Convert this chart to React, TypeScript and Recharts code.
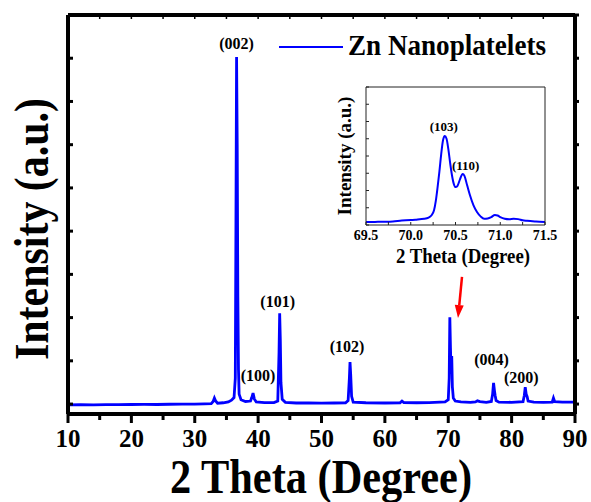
import React from "react";
import { LineChart, Line, XAxis, YAxis, ReferenceDot, ReferenceLine, Legend } from "recharts";

const FONT = "Liberation Serif, DejaVu Serif, serif";
const serif = { fontFamily: FONT, fontWeight: 700 } as const;

// main XRD pattern: 2 theta (degree) vs intensity (a.u.)
const mainAngles = [
  10, 12, 14, 16, 18, 20, 22, 24, 26, 28, 30, 31.5, 32.6, 32.9, 33.1, 33.3, 33.6, 34.5, 35.3, 35.8,
  36.2, 36.4, 36.5, 36.6, 36.7, 36.8, 36.9, 37.0, 37.3, 38, 38.8, 39.0, 39.2, 39.4, 39.7, 41, 42.5,
  43.1, 43.3, 43.4, 43.5, 43.6, 43.8, 44.3, 46, 48, 50, 52, 53.8, 54.2, 54.4, 54.5, 54.6, 54.75, 55.0,
  57, 60, 62.4, 62.7, 63.0, 65, 67, 69.5, 70.0, 70.15, 70.25, 70.35, 70.45, 70.55, 70.65, 70.8, 71.1,
  72, 73.5, 74.3, 74.6, 75.0, 76, 76.8, 77.0, 77.15, 77.3, 77.4, 77.55, 78, 80, 81.8, 82.0, 82.15,
  82.3, 82.45, 82.6, 83.5, 85, 86.4, 86.6, 86.8, 88, 90,
];
const mainIntensity = [
  -20, -15, -18, -12, -14, -10, -8, -10, -4, -2, 0, 5, 10, 60, 140, 70, 20, 30, 50, 90,
  150, 600, 4200, 8030, 6000, 2500, 800, 230, 100, 60, 70, 150, 255, 120, 50, 35, 35,
  70, 1200, 2100, 1500, 500, 110, 40, 25, 25, 20, 25, 30, 80, 600, 970, 700, 180, 45,
  30, 25, 30, 70, 35, 30, 35, 50, 100, 600, 2010, 1300, 700, 1110, 400, 140, 70,
  50, 40, 50, 75, 55, 40, 60, 230, 490, 300, 200, 80, 45, 40, 55, 200, 390,
  230, 170, 70, 45, 40, 45, 140, 55, 45, 45,
];

const xMajorTicks = [10, 20, 30, 40, 50, 60, 70, 80, 90];
const xMinorTicks = [15, 25, 35, 45, 55, 65, 75, 85];
const yTicks = [0, 1000, 2000, 3000, 4000, 5000, 6000, 7000, 8000, 9000];

const peakHkl = ["(002)", "(100)", "(101)", "(102)", "(004)", "(200)"];
const peakAngles = [36.6, 39.2, 43.4, 54.5, 77.15, 82.15];
const peakHeights = [8030, 255, 2100, 970, 490, 390];

// inset: zoom on 69.5 - 71.5 degree
const insetAngles = [
  69.5, 69.6, 69.7, 69.8, 69.9, 70.0, 70.05, 70.1, 70.15, 70.2, 70.23, 70.26, 70.28, 70.3, 70.32,
  70.34, 70.36, 70.38, 70.4, 70.42, 70.44, 70.46, 70.48, 70.5, 70.52, 70.55, 70.58, 70.6, 70.63,
  70.66, 70.7, 70.74, 70.78, 70.82, 70.86, 70.9, 70.94, 70.97, 71.0, 71.05, 71.1, 71.15, 71.2,
  71.25, 71.3, 71.4, 71.5,
];
const insetIntensity = [
  1.7, 1.8, 1.9, 2.1, 2.6, 2.9, 3.0, 3.4, 3.6, 4.3, 5.5, 8.5, 14, 22, 31,
  41, 49, 51.6, 50, 44, 36, 29, 24, 22, 22.5, 26.5, 29.6, 28.5, 23,
  17.5, 11.5, 7.5, 5, 3.6, 3.8, 4.6, 5.8, 5.5, 4.6, 3.6, 3.3, 3.6, 3.4,
  2.7, 2.4, 2, 1.7,
];
const insetMajorTicks = [69.5, 70.0, 70.5, 71.0, 71.5];
const insetMinorTicks = [69.75, 70.25, 70.75, 71.25];
const insetYTicks = [0, 10, 20, 30, 40, 50, 60, 70, 80];

const insetHkl = ["(103)", "(110)"];
const insetPeakAngles = [70.38, 70.58];
const insetPeakHeights = [51.6, 29.6];

// arrow pointing at the 70 degree peak
const arrowFrom = { x: 72.17, y: 2940 };
const arrowTo = { x: 71.54, y: 1990 };

const mainLabelShift = [[0, -8], [5, -12], [-2, -6], [-3, -10], [-2, -18], [-4, -4]];
const insetLabelShift = [[-1, -5], [3, -4]];

const mainData = mainAngles.map((a, i) => ({ angle: a, intensity: mainIntensity[i] }));
const insetData = insetAngles.map((a, i) => ({ angle: a, intensity: insetIntensity[i] }));
const allXTicks = [...xMajorTicks, ...xMinorTicks].sort((a, b) => a - b);
const allInsetTicks = [...insetMajorTicks, ...insetMinorTicks].sort((a, b) => a - b);

const MainXTick = (props: any) => {
  const { x, y, payload } = props;
  const major = xMajorTicks.includes(payload.value);
  return (
    <g>
      <line x1={x} x2={x} y1={y} y2={y + (major ? 9 : 6)} stroke="#000" strokeWidth={3} />
      {major && (
        <text x={x} y={y + 33} textAnchor="middle" style={{ ...serif, fontSize: 25 }} fill="#000">
          {payload.value}
        </text>
      )}
    </g>
  );
};

const TopTick = (props: any) => {
  const { x, y } = props;
  return <line x1={x} x2={x} y1={y} y2={y + 4} stroke="#000" strokeWidth={1.5} />;
};

const LeftTick = (props: any) => {
  const { x, y } = props;
  return <line x1={x} x2={x + 5} y1={y} y2={y} stroke="#000" strokeWidth={3} />;
};

const RightTick = (props: any) => {
  const { x, y } = props;
  return <line x1={x} x2={x + 4} y1={y} y2={y} stroke="#000" strokeWidth={3} />;
};

const InsetXTick = (props: any) => {
  const { x, y, payload } = props;
  const major = insetMajorTicks.includes(payload.value);
  return (
    <g>
      <line x1={x} x2={x} y1={y} y2={y - 3} stroke="#222" strokeWidth={1} />
      {major && (
        <text x={x} y={y + 15} textAnchor="middle" style={{ ...serif, fontSize: 14 }} fill="#000">
          {payload.value.toFixed(1)}
        </text>
      )}
    </g>
  );
};

const InsetYTick = (props: any) => {
  const { x, y } = props;
  return <line x1={x} x2={x + 3} y1={y} y2={y} stroke="#222" strokeWidth={1} />;
};

const peakLabel = (text: string, dx: number, dy: number, size: number) => (props: any) => {
  const vb = props.viewBox || {};
  return (
    <text x={vb.x + dx} y={vb.y + dy} textAnchor="middle" style={{ ...serif, fontSize: size }} fill="#000">
      {text}
    </text>
  );
};

const Arrow = (props: any) => {
  const { x1, y1, x2, y2 } = props;
  const len = Math.hypot(x2 - x1, y2 - y1);
  const ux = (x2 - x1) / len;
  const uy = (y2 - y1) / len;
  const bx = x2 - ux * 13;
  const by = y2 - uy * 13;
  const px = -uy * 4.5;
  const py = ux * 4.5;
  return (
    <g>
      <line x1={x1} y1={y1} x2={bx} y2={by} stroke="#ff0000" strokeWidth={2.5} />
      <polygon points={`${x2},${y2} ${bx + px},${by + py} ${bx - px},${by - py}`} fill="#ff0000" />
    </g>
  );
};

function InsetChart() {
  return (
    <LineChart width={280} height={195} data={insetData} margin={{ top: 6, right: 14, bottom: 49, left: 0 }}>
      <XAxis
        type="number"
        dataKey="angle"
        domain={[69.5, 71.5]}
        ticks={allInsetTicks}
        interval={0}
        height={1}
        tickSize={0}
        tickMargin={0}
        tickLine={false}
        axisLine={{ stroke: "#222", strokeWidth: 1 }}
        tick={<InsetXTick />}
      />
      <XAxis xAxisId="top" orientation="top" type="number" dataKey="angle" domain={[69.5, 71.5]} height={1} tick={false} tickLine={false} axisLine={{ stroke: "#222", strokeWidth: 1 }} />
      <YAxis
        type="number"
        domain={[0, 80]}
        ticks={insetYTicks}
        interval={0}
        width={86}
        tickSize={0}
        tickMargin={0}
        tickLine={false}
        axisLine={{ stroke: "#222", strokeWidth: 1 }}
        tick={<InsetYTick />}
      />
      <YAxis yAxisId="right" orientation="right" type="number" domain={[0, 80]} width={1} tick={false} tickLine={false} axisLine={{ stroke: "#222", strokeWidth: 1 }} />
      <Line type="monotone" dataKey="intensity" stroke="#0000ff" strokeWidth={2} dot={false} activeDot={false} isAnimationActive={false} />
      <Line xAxisId="top" yAxisId="right" dataKey="intensity" stroke="none" dot={false} activeDot={false} legendType="none" isAnimationActive={false} />
      {insetHkl.map((h, i) => (
        <ReferenceDot
          key={h}
          x={insetPeakAngles[i]}
          y={insetPeakHeights[i]}
          r={0}
          fill="none"
          stroke="none"
          label={peakLabel(h, insetLabelShift[i][0], insetLabelShift[i][1], 13)}
        />
      ))}
      <text x={183} y={183} textAnchor="middle" style={{ ...serif, fontSize: 22 }} textLength={134} lengthAdjust="spacingAndGlyphs" fill="#000">
        2 Theta (Degree)
      </text>
      <text x={71} y={76} transform="rotate(-90 71 76)" textAnchor="middle" style={{ ...serif, fontSize: 19 }} fill="#000">
        Intensity (a.u.)
      </text>
    </LineChart>
  );
}

export default function App() {
  return (
    <div style={{ position: "absolute", left: 0, top: 0, width: 591, height: 502, background: "#fff" }}>
      <LineChart width={591} height={502} data={mainData} margin={{ top: 14, right: 15, bottom: 58, left: 0 }}>
        <XAxis
          type="number"
          dataKey="angle"
          domain={[10, 90]}
          ticks={allXTicks}
          interval={0}
          height={30}
          tickSize={0}
          tickMargin={0}
          tickLine={false}
          axisLine={{ stroke: "#000", strokeWidth: 4 }}
          tick={<MainXTick />}
        />
        <XAxis
          xAxisId="top"
          orientation="top"
          type="number"
          dataKey="angle"
          domain={[10, 90]}
          ticks={allXTicks}
          interval={0}
          height={1}
          tickSize={0}
          tickMargin={0}
          tickLine={false}
          axisLine={{ stroke: "#000", strokeWidth: 4 }}
          tick={<TopTick />}
        />
        <YAxis
          type="number"
          domain={[-230, 9000]}
          ticks={yTicks}
          interval={0}
          width={68}
          tickSize={0}
          tickMargin={0}
          tickLine={false}
          axisLine={{ stroke: "#000", strokeWidth: 4 }}
          tick={<LeftTick />}
        />
        <YAxis
          yAxisId="right"
          orientation="right"
          type="number"
          domain={[-230, 9000]}
          ticks={yTicks}
          interval={0}
          width={1}
          tickSize={0}
          tickMargin={0}
          tickLine={false}
          axisLine={{ stroke: "#000", strokeWidth: 4 }}
          tick={<RightTick />}
        />
        <Line type="linear" dataKey="intensity" name="Zn Nanoplatelets" stroke="#0000ff" strokeWidth={2.8} dot={false} activeDot={false} isAnimationActive={false} />
        <Line xAxisId="top" yAxisId="right" dataKey="intensity" stroke="none" dot={false} activeDot={false} legendType="none" isAnimationActive={false} />
        {peakHkl.map((h, i) => (
          <ReferenceDot
            key={h}
            x={peakAngles[i]}
            y={peakHeights[i]}
            r={0}
            fill="none"
            stroke="none"
            label={peakLabel(h, mainLabelShift[i][0], mainLabelShift[i][1], 16)}
          />
        ))}
        <ReferenceLine segment={[arrowFrom, arrowTo]} shape={<Arrow />} />
        <Legend
          layout="horizontal"
          verticalAlign="middle"
          align="center"
          wrapperStyle={{ left: 279, top: 26, width: 290, height: 44 }}
          content={() => (
            <svg width={290} height={44} style={{ display: "block", overflow: "visible" }}>
              <line x1={0} x2={64} y1={21} y2={21} stroke="#0000ff" strokeWidth={2} />
              <text x={69} y={29} style={{ ...serif, fontSize: 30 }} textLength={198} lengthAdjust="spacingAndGlyphs" fill="#000">
                Zn Nanoplatelets
              </text>
            </svg>
          )}
        />
        <text x={321} y={493} textAnchor="middle" style={{ ...serif, fontSize: 48 }} textLength={302} lengthAdjust="spacingAndGlyphs" fill="#000">
          2 Theta (Degree)
        </text>
        <text x={48} y={229} transform="rotate(-90 48 229)" textAnchor="middle" style={{ ...serif, fontSize: 48 }} textLength={262} lengthAdjust="spacingAndGlyphs" fill="#000">
          Intensity (a.u.)
        </text>
      </LineChart>
      <div style={{ position: "absolute", left: 280, top: 80 }}>
        <InsetChart />
      </div>
    </div>
  );
}
